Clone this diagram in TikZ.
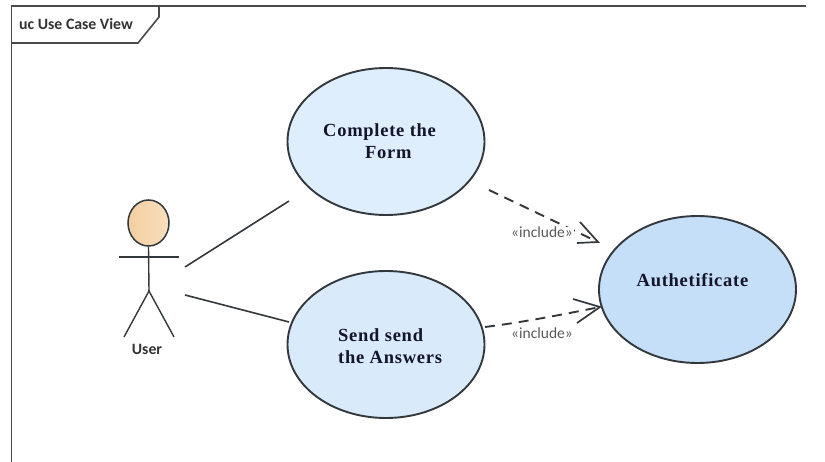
\documentclass[tikz,border=0pt]{standalone}
\usepackage{fontspec}
\setmainfont{Liberation Serif}
\newfontfamily\uifont{Carlito}
\newfontfamily\casefont[LetterSpace=4]{Liberation Serif}
\usetikzlibrary{shapes.geometric,arrows.meta}
\definecolor{ln}{HTML}{33383D}
\definecolor{frameln}{HTML}{4A4A4A}
\definecolor{txt}{HTML}{14142B}
\definecolor{formfill}{HTML}{DFEEFC}
\definecolor{ansfill}{HTML}{D9EAFB}
\definecolor{authfill}{HTML}{C6DFF8}
\definecolor{headl}{HTML}{F3CFA0}
\definecolor{headr}{HTML}{F8DFBE}
\tikzset{
  x=1pt,y=-1pt,
  case/.style={ellipse,draw=ln,line width=1.9pt,inner sep=0pt,minimum width=197pt,minimum height=147pt},
  casetext/.style={font=\casefont\bfseries\fontsize{18.5}{21.5}\selectfont,align=left,text=txt,inner sep=0pt},
  actorline/.style={draw=ln,line width=1.4pt},
  assoc/.style={draw=ln,line width=1.6pt},
  incl/.style={draw=ln,line width=1.9pt,dash pattern=on 10pt off 7pt},
  opentip/.style={draw=ln,line width=1.7pt},
  lbl/.style={font=\uifont\fontsize{15.5}{17}\selectfont,text=black!65,inner sep=0pt},
  uilabel/.style={font=\uifont\bfseries\fontsize{15.8}{18}\selectfont,text=black!80,inner sep=0pt}
}
\begin{document}
\begin{tikzpicture}
\useasboundingbox[fill=white] (0,0) rectangle (825,462);
\coordinate (ftl) at (11.5,6);
\coordinate (ftr) at (806,6);
\coordinate (fbl) at (11.5,462);
\coordinate (tabtr) at (159,6);
\coordinate (tabm) at (159,17);
\coordinate (tabb) at (138,43);
\coordinate (tabl) at (11.5,43);
\draw[frameln,line width=1.9pt] (fbl) -- (ftl) -- (ftr);
\draw[frameln,line width=1.6pt] (tabtr) -- (tabm) -- (tabb) -- (tabl);
\node[uilabel,anchor=west] (title) at (19,24.5) {uc Use Case View};

\node[case,fill=formfill] (form) at (386,141.5) {};
\node[case,fill=ansfill] (answers) at (386,344.5) {};
\node[case,fill=authfill] (auth) at (697.5,289.5) {};
\node[casetext,anchor=west] (formt) at (323,132) {Complete the};
\node[casetext,anchor=west] (formu) at (365,153) {Form};
\node[casetext,anchor=west] (answt) at (338,335) {Send send};
\node[casetext,anchor=west] (answu) at (338,357) {the Answers};
\node[casetext] (autht) at (692.5,280) {Authetificate};

\node[ellipse,draw=ln,line width=1.5pt,left color=headl,right color=headr,minimum width=41pt,minimum height=46pt,inner sep=0pt] (head) at (148.5,223) {};
\coordinate (arml) at (119,257);
\coordinate (armr) at (179,257);
\coordinate (hip) at (149,291);
\coordinate (footl) at (124,337);
\coordinate (footr) at (174,337);
\draw[actorline] (head.south) -- (hip);
\draw[actorline] (arml) -- (armr);
\draw[actorline] (footl) -- (hip) -- (footr);
\node[uilabel] (user) at (147,349) {User};

\coordinate (a1) at (185,267);
\coordinate (a2) at (289,201);
\coordinate (b1) at (185,295);
\coordinate (b2) at (289,322);
\draw[assoc] (a1) -- (a2);
\draw[assoc] (b1) -- (b2);

\coordinate (d1) at (489,190);
\coordinate (d1e) at (598,242);
\coordinate (d2) at (485,327);
\coordinate (d2e) at (600,307);
\coordinate (t1a) at (580,222);
\coordinate (t1b) at (577,243);
\coordinate (t2a) at (573,299);
\coordinate (t2b) at (577,323);
\draw[incl] (d1) -- (d1e);
\draw[opentip] (t1a) -- (d1e) -- (t1b);
\node[lbl,fill=white,inner xsep=1pt] (l1) at (542,232) {«include»};
\draw[incl] (d2) .. controls (525,322) and (565,314) .. (d2e);
\draw[opentip] (t2a) -- (d2e) -- (t2b);
\node[lbl] (l2) at (542,333) {«include»};
\end{tikzpicture}
\end{document}
